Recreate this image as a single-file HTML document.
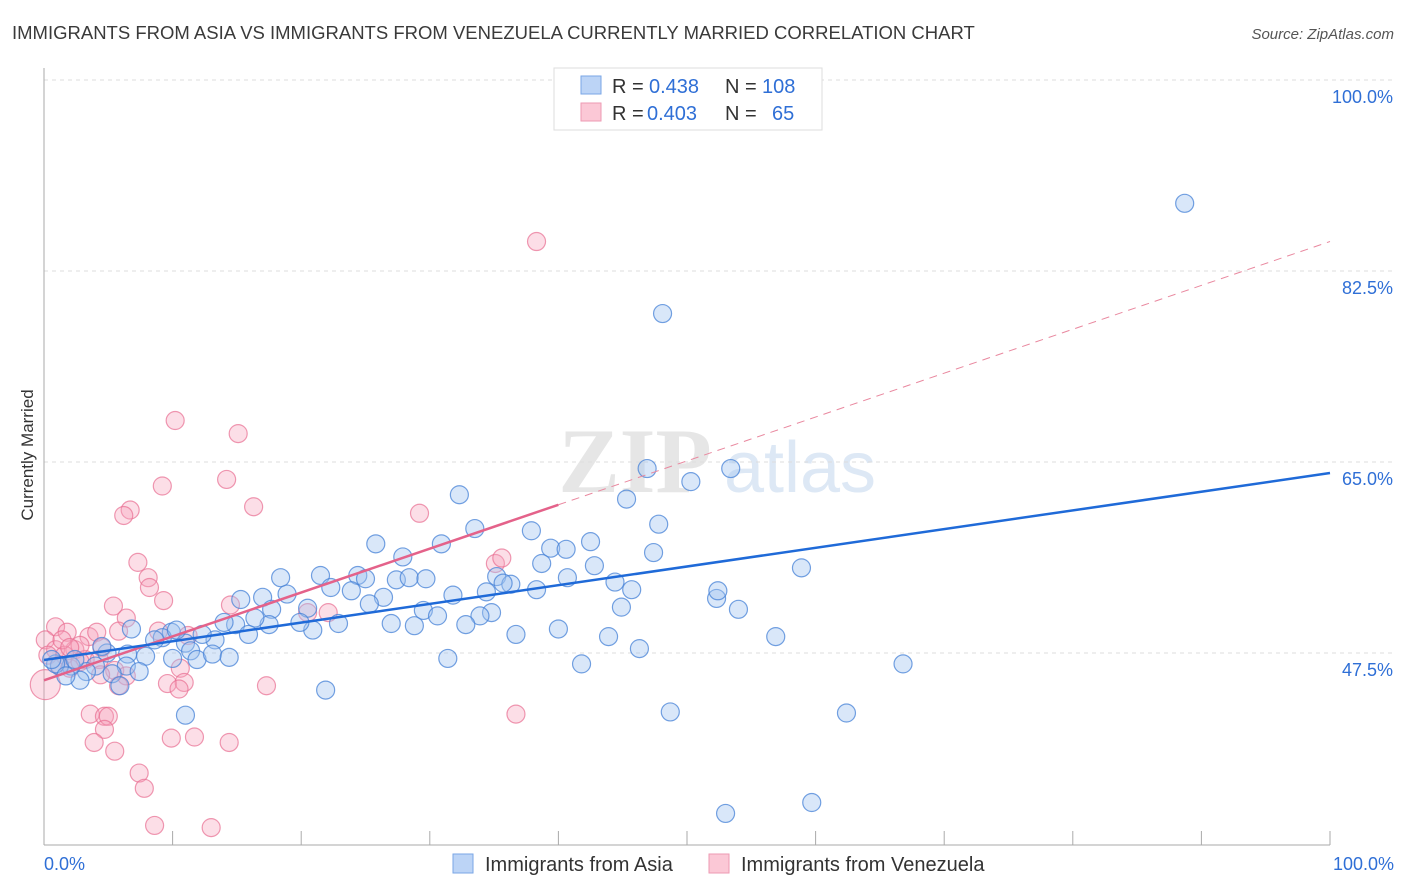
<!DOCTYPE html>
<html><head><meta charset="utf-8"><style>
body{margin:0;background:#fff;font-family:"Liberation Sans",sans-serif;}
#wrap{position:relative;width:1406px;height:892px;overflow:hidden;}
svg{position:absolute;left:0;top:0;}
</style></head><body>
<div id="wrap">
<svg id="chart" width="1406" height="892">
<text x="12" y="39" font-size="18.5" fill="#3a3a3a">IMMIGRANTS FROM ASIA VS IMMIGRANTS FROM VENEZUELA CURRENTLY MARRIED CORRELATION CHART</text>
<text x="1394" y="39" font-size="15" fill="#555" font-style="italic" text-anchor="end">Source: ZipAtlas.com</text>
<text x="635" y="492" font-size="92" fill="#e6e6e6" font-family="Liberation Serif,serif" font-weight="bold" text-anchor="middle">ZIP</text>
<text x="800" y="492" font-size="72" fill="#dde8f5" text-anchor="middle">atlas</text>
<text transform="translate(33,455) rotate(-90)" font-size="17" fill="#333" text-anchor="middle">Currently Married</text>
<g id="grid"></g><g id="pts"></g><g id="lines"></g>
<g>
<rect x="554" y="68" width="268" height="62" fill="#fff" stroke="#ddd"/>
<rect x="581" y="76" width="20" height="18" fill="#bcd4f6" stroke="#7aa6e6"/>
<rect x="581" y="103" width="20" height="18" fill="#fbc8d6" stroke="#ee9ab3"/>
<g font-size="20" fill="#333">
<text x="612" y="93">R =</text>
<text x="649" y="93" fill="#2f6fd6">0.438</text>
<text x="725" y="93">N =</text>
<text x="762" y="93" fill="#2f6fd6">108</text>
<text x="612" y="120">R =</text>
<text x="647" y="120" fill="#2f6fd6">0.403</text>
<text x="725" y="120">N =</text>
<text x="772" y="120" fill="#2f6fd6">65</text>
</g>
</g>
<g>
<rect x="453" y="854" width="20" height="19" fill="#bcd4f6" stroke="#7aa6e6"/>
<text x="485" y="871" font-size="20" fill="#333">Immigrants from Asia</text>
<rect x="709" y="854" width="20" height="19" fill="#fbc8d6" stroke="#ee9ab3"/>
<text x="741" y="871" font-size="20" fill="#333">Immigrants from Venezuela</text>
</g>
<text x="44" y="870" font-size="18" fill="#2f6fd6">0.0%</text>
<text x="1394" y="870" font-size="18" fill="#2f6fd6" text-anchor="end">100.0%</text>
</svg></div>
<script>
const yTicks=[100,82.5,65,47.5];
const yTickLabels=["100.0%","82.5%","65.0%","47.5%"];
const asiaX=[88.7,48.1,46.9,53.4,50.3,32.3,45.3,47.8,33.5,37.9,42.5,25.8,39.4,40.6,47.4,27.9,30.9,58.9,38.7,21.5,18.4,42.8,24.4,25.0,27.4,28.4,29.7,35.2,36.3,34.4,35.7,38.3,40.7,44.4,45.7,52.3,52.4,54.0,44.9,31.8,26.4,23.9,22.3,18.9,17.0,15.3,17.7,20.5,25.3,29.5,30.6,34.8,33.9,32.8,27.0,28.8,22.9,20.9,19.9,17.5,16.4,14.9,14.0,13.3,15.9,12.3,11.0,9.9,9.2,8.6,10.3,6.8,4.9,6.5,7.9,11.4,11.9,13.1,14.4,10.0,6.4,7.4,5.3,4.0,3.3,2.8,2.1,1.2,0.9,1.7,5.9,4.5,36.7,40.0,43.9,46.3,41.8,31.4,56.9,66.8,11.0,21.9,48.7,62.4,53.0,59.7,0.6,2.4];
const asiaY=[88.7,78.6,64.4,64.4,63.2,62.0,61.6,59.3,58.9,58.7,57.7,57.5,57.1,57.0,56.7,56.3,57.5,55.3,55.7,54.6,54.4,55.5,54.6,54.3,54.2,54.4,54.3,54.5,53.8,53.1,53.9,53.3,54.4,54.0,53.3,52.5,53.2,51.5,51.7,52.8,52.6,53.2,53.5,52.9,52.6,52.4,51.5,51.6,52.0,51.4,50.9,51.2,50.9,50.1,50.2,50.0,50.2,49.6,50.3,50.1,50.7,50.1,50.3,48.7,49.2,49.2,48.4,49.4,48.9,48.7,49.6,49.7,47.5,47.4,47.2,47.7,46.9,47.4,47.1,47.0,46.3,45.8,45.6,46.3,45.8,45.0,46.3,46.3,46.5,45.4,44.5,48.1,49.2,49.7,49.0,47.9,46.5,47.0,49.0,46.5,41.8,44.1,42.1,42.0,32.8,33.8,46.9,46.9];
const venX=[38.3,10.2,15.1,14.2,9.2,16.3,6.7,6.2,29.2,7.3,8.1,8.2,9.3,5.4,14.5,6.4,20.5,22.1,35.1,35.6,0.9,1.8,3.5,4.1,5.8,8.9,11.2,0.1,2.4,4.5,0.9,0.3,1.6,3.2,1.2,2.0,2.8,4.3,5.5,4.4,6.4,10.6,9.6,10.9,10.5,5.8,17.3,0.1,3.6,4.7,5.0,4.7,3.9,5.5,9.9,11.7,14.4,7.4,7.8,8.6,13.0,36.7,2.8,1.4,2.0];
const venY=[85.2,68.8,67.6,63.4,62.8,60.9,60.6,60.1,60.3,55.8,54.4,53.5,52.3,51.8,51.9,50.7,51.2,51.2,55.7,56.2,49.9,49.4,49.0,49.4,49.5,49.5,49.1,48.7,47.8,48.0,47.8,47.3,47.3,46.9,46.4,46.1,46.7,46.9,45.9,45.5,45.4,46.1,44.7,44.8,44.2,44.5,44.5,44.6,41.9,41.7,41.7,40.5,39.3,38.5,39.7,39.8,39.3,36.5,35.1,31.7,31.5,41.9,48.2,48.7,48.0];
const asiaTrend=[46.86,63.99];
const venTrend=[45.0,85.2];
const venSolidEnd=40;
const NS="http://www.w3.org/2000/svg";
const X=v=>44+v*12.86, Y=v=>80+(100-v)*10.914;
function mk(tag,attrs,parent){const e=document.createElementNS(NS,tag);for(const k in attrs)e.setAttribute(k,attrs[k]);parent.appendChild(e);return e;}
const grid=document.getElementById('grid'),pts=document.getElementById('pts'),lines=document.getElementById('lines');
yTicks.forEach((t,i)=>{
 const l=mk('line',{x1:44,x2:1393,y1:Y(t),y2:Y(t),stroke:'#ddd','stroke-dasharray':'4,4'},grid);
 
 
 const tx=mk('text',{x:1393,y:Y(t)+23,'font-size':18,fill:'#2f6fd6','text-anchor':'end'},grid);
 tx.textContent=yTickLabels[i];
 
 
});
const ax=mk('line',{x1:44,x2:44,y1:68,y2:845,stroke:'#aaa'},grid);


const bx=mk('line',{x1:44,x2:1330,y1:845,y2:845,stroke:'#aaa'},grid);


for(let i=1;i<=10;i++){const t=mk('line',{x1:X(i*10),x2:X(i*10),y1:831,y2:845,stroke:'#aaa'},grid);
 
 }
venX.forEach((v,i)=>{const c=mk('circle',{cx:X(v),cy:Y(venY[i]),r:(i==47?15:9),fill:'rgba(246,160,185,0.35)',stroke:'rgba(232,110,145,0.7)','stroke-width':1.2},pts);
 
 });
asiaX.forEach((v,i)=>{const c=mk('circle',{cx:X(v),cy:Y(asiaY[i]),r:9,fill:'rgba(160,196,240,0.4)',stroke:'rgba(70,130,215,0.75)','stroke-width':1.2},pts);
 
 });
const vAt=x=>venTrend[0]+(venTrend[1]-venTrend[0])*x/100;
const l1=mk('line',{x1:X(venSolidEnd),y1:Y(vAt(venSolidEnd)),x2:X(100),y2:Y(venTrend[1]),stroke:'#e9889f','stroke-width':1,'stroke-dasharray':'8,6'},lines);


const l2=mk('line',{x1:X(0),y1:Y(venTrend[0]),x2:X(venSolidEnd),y2:Y(vAt(venSolidEnd)),stroke:'#e4628a','stroke-width':2.5},lines);


const l3=mk('line',{x1:X(0),y1:Y(asiaTrend[0]),x2:X(100),y2:Y(asiaTrend[1]),stroke:'#1f6ad8','stroke-width':2.5},lines);


</script>
</body></html>
